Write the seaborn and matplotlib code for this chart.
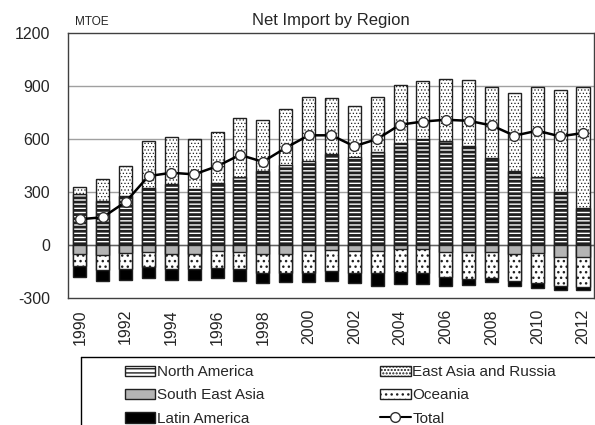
import numpy as np
import matplotlib
matplotlib.use("Agg")
import matplotlib.pyplot as plt
import seaborn as sns
from matplotlib.patches import Patch
from matplotlib.lines import Line2D

# === Data (MTOE) ===
years = [str(y) for y in range(1990, 2013)]
north_america = [287, 249, 277, 325, 343, 315, 353, 384, 418, 452, 476, 518,
                 497, 525, 578, 600, 587, 563, 491, 418, 384, 300, 208]
east_asia_russia = [41, 122, 173, 262, 269, 285, 287, 334, 287, 319, 364, 316,
                    291, 315, 326, 330, 353, 371, 402, 441, 512, 578, 685]
south_east_asia = [-52, -58, -47, -39, -49, -49, -36, -39, -52, -52, -36, -28,
                   -34, -34, -21, -24, -39, -39, -37, -52, -43, -66, -66]
oceania = [-66, -83, -90, -85, -84, -88, -92, -98, -104, -104, -125, -118,
           -127, -127, -131, -132, -141, -154, -147, -150, -173, -165, -174]
latin_america = [-62, -65, -60, -65, -64, -60, -56, -65, -61, -56, -51, -60,
                 -56, -70, -69, -65, -51, -32, -24, -29, -28, -22, -13]
total = [146, 157, 244, 390, 409, 400, 446, 510, 471, 550, 621, 621,
         559, 600, 681, 699, 709, 703, 677, 619, 647, 615, 634]
yticks = [-300, 0, 300, 600, 900, 1200]

# === Style ===
sns.set_theme(style="white")
plt.rcParams["font.family"] = ["Liberation Sans", "DejaVu Sans"]

fig = plt.figure(figsize=(5.95, 4.25), dpi=100)
ax = fig.add_axes([0.1143, 0.2988, 0.884, 0.6235])

na = np.array(north_america)
ea = np.array(east_asia_russia)
sea = np.array(south_east_asia)
oc = np.array(oceania)
la = np.array(latin_america)

edge = "#202020"
w = 0.57
# hatch styles: (hatch, hatch linewidth)
HATCH = {
    "na": ("----", 2.0),
    "ea": (".....", 0.5),
    "oc": ("...", 1.0),
}


def set_hlw(patch, lw):
    if hasattr(patch, "set_hatch_linewidth"):
        patch.set_hatch_linewidth(lw)


# stacked bars: draw the cumulative tallest first, shorter ones on top
layers = [
    (na + ea, "white", "ea"),
    (na, "white", "na"),
    (sea + oc + la, "black", None),
    (sea + oc, "white", "oc"),
    (sea, "#b4b4b4", None),
]
for vals, fc, key in layers:
    hatch, hlw = HATCH[key] if key else (None, 1.0)
    n_before = len(ax.patches)
    with plt.rc_context({"hatch.linewidth": hlw}):
        sns.barplot(x=years, y=vals, color=fc, edgecolor=edge, linewidth=1.0,
                    hatch=hatch, width=w, saturation=1, ax=ax, zorder=2)
    for p in ax.patches[n_before:]:
        set_hlw(p, hlw)

sns.lineplot(x=np.arange(len(years)), y=total, color="black", linewidth=1.8,
             marker="o", markersize=7, markerfacecolor="white",
             markeredgecolor="#303030", markeredgewidth=1.0, ax=ax, zorder=3)

ax.set_ylim(-300, 1200)
ax.set_xlim(-0.52, len(years) - 0.52)
ax.set_yticks(yticks)
ax.set_yticklabels([str(t) for t in yticks], fontsize=11.5)
ax.set_xticks(range(0, len(years), 2))
ax.set_xticklabels(years[::2], rotation=90, fontsize=11.5)
ax.tick_params(axis="y", direction="in", length=5, color="#404040", pad=13)
ax.tick_params(axis="x", length=0, pad=8)
ax.set_xlabel("")
ax.set_ylabel("")
for t in yticks[1:-1]:
    ax.axhline(t, color="#a0a0a0", linewidth=1.0, zorder=1)
ax.axhline(0, color="#606060", linewidth=1.0, zorder=1)
for s in ax.spines.values():
    s.set_color("#404040")
    s.set_linewidth(1.0)

ax.set_title("Net Import by Region", fontsize=12, pad=6)
ax.text(0.014, 1.02, "MTOE", transform=ax.transAxes, fontsize=8.5,
        ha="left", va="bottom")

# === Legend ===
def leg_patch(fc, key, label):
    hatch, hlw = HATCH[key] if key else (None, 1.0)
    with plt.rc_context({"hatch.linewidth": hlw}):
        p = Patch(facecolor=fc, edgecolor=edge, hatch=hatch, label=label)
    set_hlw(p, hlw)
    return p


handles = [
    leg_patch("white", "na", "North America"),
    leg_patch("#b4b4b4", None, "South East Asia"),
    leg_patch("black", None, "Latin America"),
    leg_patch("white", "ea", "East Asia and Russia"),
    leg_patch("white", "oc", "Oceania"),
    Line2D([], [], color="black", marker="o", markerfacecolor="white",
           markeredgecolor="#303030", markersize=7, label="Total"),
]
leg = fig.legend(handles=handles, ncol=2, loc="upper left",
                 bbox_to_anchor=(0.199, 0.155), bbox_transform=fig.transFigure,
                 frameon=False, fontsize=11, handlelength=2.0, handletextpad=0.1,
                 columnspacing=7.6, labelspacing=0.6, borderaxespad=0)
fig.add_artist(Line2D([0.136, 1.0], [0.16, 0.16], color="black", linewidth=1.0,
                      transform=fig.transFigure))
fig.add_artist(Line2D([0.136, 0.136], [0.0, 0.16], color="black", linewidth=1.0,
                      transform=fig.transFigure))

plt.savefig("out.png", dpi=100)
plt.close()
